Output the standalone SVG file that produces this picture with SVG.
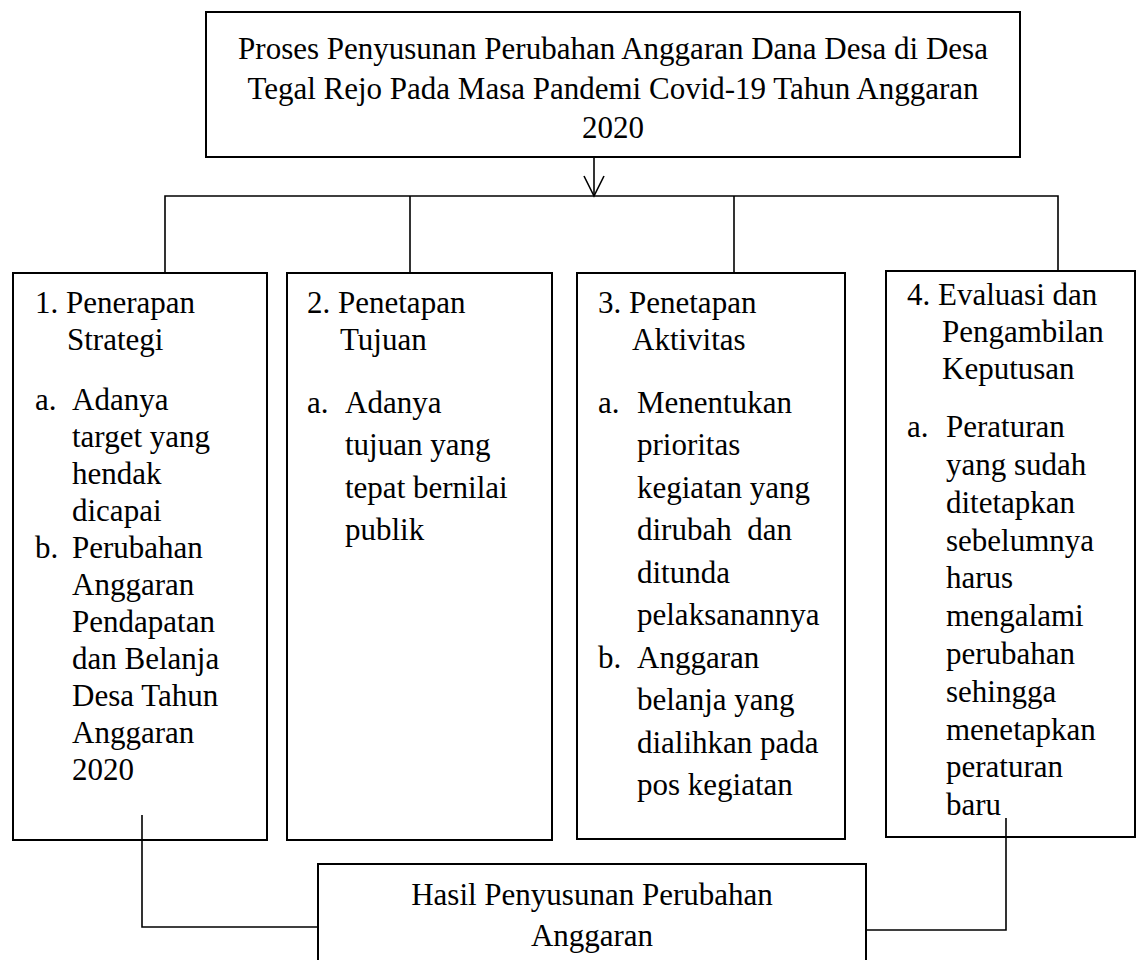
<svg xmlns="http://www.w3.org/2000/svg" width="1138" height="960" viewBox="0 0 1138 960">
<style>
.box{fill:#fff;stroke:#000;stroke-width:2}
.ln{fill:none;stroke:#000;stroke-width:1.6}
text{font-family:"Liberation Serif","Times New Roman",serif;font-size:31px;fill:#000}
.c{text-anchor:middle}
</style>
<rect width="1138" height="960" fill="#fff"/>
<g id="top">
<rect class="box" x="206" y="12" width="814" height="145"/>
<text class="c" x="613" y="59">Proses Penyusunan Perubahan Anggaran Dana Desa di Desa</text>
<text class="c" x="613" y="99">Tegal Rejo Pada Masa Pandemi Covid-19 Tahun Anggaran</text>
<text class="c" x="613" y="138">2020</text>
</g>
<g id="box1">
<rect class="box" x="13" y="273" width="254" height="567"/>
<text x="35" y="313">1. Penerapan</text>
<text x="67" y="350">Strategi</text>
<text x="35" y="410">a.</text>
<text x="72" y="410">Adanya</text>
<text x="72" y="447">target yang</text>
<text x="72" y="484">hendak</text>
<text x="72" y="521">dicapai</text>
<text x="35" y="558">b.</text>
<text x="72" y="558">Perubahan</text>
<text x="72" y="595">Anggaran</text>
<text x="72" y="632">Pendapatan</text>
<text x="72" y="669">dan Belanja</text>
<text x="72" y="706">Desa Tahun</text>
<text x="72" y="743">Anggaran</text>
<text x="72" y="780">2020</text>
</g>
<g id="box2">
<rect class="box" x="287" y="273" width="265" height="567"/>
<text x="307" y="313">2. Penetapan</text>
<text x="340" y="350">Tujuan</text>
<text x="307" y="413">a.</text>
<text x="345" y="413">Adanya</text>
<text x="345" y="455">tujuan yang</text>
<text x="345" y="498">tepat bernilai</text>
<text x="345" y="540">publik</text>
</g>
<g id="box3">
<rect class="box" x="577" y="273" width="268" height="566"/>
<text x="598" y="313">3. Penetapan</text>
<text x="632" y="350">Aktivitas</text>
<text x="598" y="413">a.</text>
<text x="637" y="413">Menentukan</text>
<text x="637" y="455">prioritas</text>
<text x="637" y="498">kegiatan yang</text>
<text x="637" y="540" xml:space="preserve">dirubah  dan</text>
<text x="637" y="583">ditunda</text>
<text x="637" y="625">pelaksanannya</text>
<text x="598" y="668">b.</text>
<text x="637" y="668">Anggaran</text>
<text x="637" y="710">belanja yang</text>
<text x="637" y="753">dialihkan pada</text>
<text x="637" y="795">pos kegiatan</text>
</g>
<g id="box4">
<rect class="box" x="886" y="271" width="249" height="566"/>
<text x="907" y="305">4. Evaluasi dan</text>
<text x="942" y="342">Pengambilan</text>
<text x="942" y="379">Keputusan</text>
<text x="907" y="437">a.</text>
<text x="946" y="437">Peraturan</text>
<text x="946" y="475">yang sudah</text>
<text x="946" y="513">ditetapkan</text>
<text x="946" y="551">sebelumnya</text>
<text x="946" y="588">harus</text>
<text x="946" y="626">mengalami</text>
<text x="946" y="664">perubahan</text>
<text x="946" y="702">sehingga</text>
<text x="946" y="740">menetapkan</text>
<text x="946" y="777">peraturan</text>
<text x="946" y="815">baru</text>
</g>
<g id="result">
<rect class="box" x="318" y="864" width="548" height="110"/>
<text class="c" x="592" y="905">Hasil Penyusunan Perubahan</text>
<text class="c" x="592" y="946">Anggaran</text>
</g>
<g id="connectors">
<path class="ln" d="M594 157 V196"/>
<path class="ln" d="M584 176 L594 196 L604 176"/>
<path class="ln" d="M165 273 V196 H1058 V271"/>
<path class="ln" d="M410 196 V273"/>
<path class="ln" d="M734 196 V273"/>
<path class="ln" d="M142 815 V927 H318"/>
<path class="ln" d="M1006 818 V930 H866"/>
</g>
</svg>
